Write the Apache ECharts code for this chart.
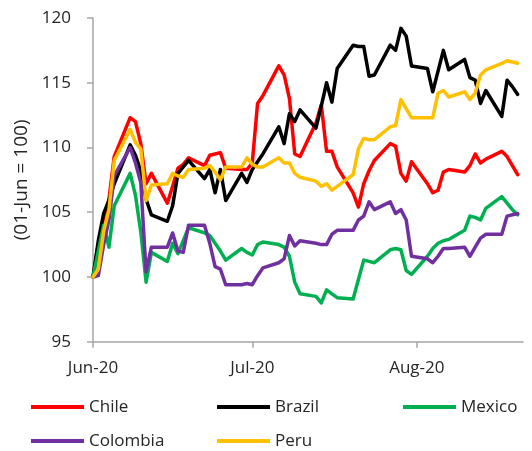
<!DOCTYPE html>
<html>
<head>
<meta charset="utf-8">
<script src="https://cdn.jsdelivr.net/npm/echarts@6/dist/echarts.min.js"></script>
<style>
html,body{margin:0;padding:0;background:#fff;}
#chart{width:532px;height:451px;}
</style>
</head>
<body>
<div id="chart"></div>
<script>
// Business days, 1 Jun 2020 .. 20 Aug 2020
const dates = [
  '2020-06-01','2020-06-02','2020-06-03','2020-06-04','2020-06-05',
  '2020-06-08','2020-06-09','2020-06-10','2020-06-11','2020-06-12',
  '2020-06-15','2020-06-16','2020-06-17','2020-06-18','2020-06-19',
  '2020-06-22','2020-06-23','2020-06-24','2020-06-25','2020-06-26',
  '2020-06-29','2020-06-30',
  '2020-07-01','2020-07-02','2020-07-03',
  '2020-07-06','2020-07-07','2020-07-08','2020-07-09','2020-07-10',
  '2020-07-13','2020-07-14','2020-07-15','2020-07-16','2020-07-17',
  '2020-07-20','2020-07-21','2020-07-22','2020-07-23','2020-07-24',
  '2020-07-27','2020-07-28','2020-07-29','2020-07-30','2020-07-31',
  '2020-08-03','2020-08-04','2020-08-05','2020-08-06','2020-08-07',
  '2020-08-10','2020-08-11','2020-08-12','2020-08-13','2020-08-14',
  '2020-08-17','2020-08-18','2020-08-19','2020-08-20'
];

const chile = [
  100, 102.5, 104.5, 106, 109.3, 112.3, 112.0, 110.3, 107.2, 108.0,
  105.7, 107.0, 108.4, 108.7, 109.2, 108.6, 109.4, 109.5, 109.6, 108.4,
  108.3, 108.3,
  108.8, 113.4, 114.0, 116.3, 115.6, 113.8, 109.5, 109.3, 111.9, 113.3,
  109.7, 109.7, 108.5, 106.5, 105.4, 107.2, 108.2, 109.0, 110.3, 110.1,
  108.0, 107.4, 108.9,
  107.2, 106.5, 106.7, 108.1, 108.3, 108.1, 108.6, 109.5, 108.8, 109.1,
  109.7, 109.3, 108.6, 107.9
];

const brazil = [
  100, 102.8, 104.9, 105.9, 107.2, 110.2, 109.4, 108.2, 106.0, 104.8,
  104.3, 105.5, 108.0, 108.5, 109.0, 107.6, 108.3, 106.5, 108.3, 105.9,
  108.0, 107.3,
  108.3, 108.9, 109.5, 111.6, 110.3, 112.6, 112.0, 112.9, 111.5, 113.2,
  115.0, 113.5, 116.1, 117.9, 117.8, 117.8, 115.5, 115.6, 117.9, 117.5,
  119.2, 118.6, 116.3,
  116.1, 114.3, 115.9, 117.5, 116.0, 116.8, 115.4, 115.2, 113.4, 114.4,
  112.4, 115.2, 114.7, 114.1
];

const mexico = [
  100, 102.0, 104.0, 102.3, 105.5, 108.0, 106.3, 103.5, 99.6, 101.9,
  101.2, 102.6, 101.8, 102.8, 103.8, 103.4, 103.2, 102.6, 102.0, 101.3,
  102.2, 101.9,
  101.7, 102.5, 102.7, 102.5, 102.3, 101.6, 99.6, 98.7, 98.5, 98.0,
  99.0, 98.7, 98.4, 98.3, 99.8, 101.3, 101.2, 101.1, 102.1, 102.2,
  102.1, 100.5, 100.2,
  101.6, 102.2, 102.6, 102.8, 102.9, 103.6, 104.7, 104.6, 104.4, 105.3,
  106.2, 105.7, 105.2, 104.8
];

const colombia = [
  100, 100.1, 102.5, 104.4, 107.8, 110.0, 108.8, 107.3, 100.4, 102.3,
  102.3, 103.4, 102.0, 101.9, 104.0, 104.0, 102.6, 100.8, 100.6, 99.4,
  99.4, 99.5,
  99.4, 100.1, 100.7, 101.1, 101.4, 103.2, 102.4, 102.8, 102.6, 102.5,
  102.5, 103.3, 103.6, 103.6, 104.4, 104.7, 105.8, 105.2, 105.8, 104.9,
  105.2, 104.4, 101.6,
  101.4, 101.1, 101.6, 102.2, 102.2, 102.3, 101.6, 102.3, 103.0, 103.3,
  103.3, 104.7, 104.8, 104.9
];

const peru = [
  100, 100.6, 103.5, 105.2, 109.0, 111.4, 110.4, 109.9, 105.9, 107.1,
  107.2, 108.0, 107.8, 107.7, 108.3, 108.4, 108.6, 108.1, 107.5, 108.5,
  108.5, 109.2,
  108.7, 108.5, 108.5, 109.2, 108.8, 108.8, 108.0, 107.7, 107.4, 107.0,
  107.2, 106.7, 107.0, 107.9, 109.9, 110.7, 110.6, 110.6, 111.6, 111.7,
  113.7, 113.0, 112.3,
  112.3, 112.3, 114.2, 114.4, 113.9, 114.3, 113.7, 114.2, 115.6, 116.0,
  116.5, 116.7, 116.6, 116.5
];

const seriesNames = ['Chile', 'Brazil', 'Mexico', 'Colombia', 'Peru'];
const xTickDates = ['2020-06-01', '2020-07-01', '2020-08-01'];
const xTickLabels = ['Jun-20', 'Jul-20', 'Aug-20'];
const xMin = '2020-06-01';
const xMax = '2020-08-21';
const yMin = 95, yMax = 120, yStep = 5;
const yTitle = '(01-Jun = 100)';

const DAY = 86400000;
function dayNum(s) {
  const p = s.split('-').map(Number);
  return Math.round(Date.UTC(p[0], p[1] - 1, p[2]) / DAY);
}

const colors = ['#FF0000', '#000000', '#00B050', '#7030A0', '#FFC000'];
const allValues = [chile, brazil, mexico, colombia, peru];
const tickDays = xTickDates.map(dayNum);
const FONT = 'Open Sans';

const series = seriesNames.map((name, k) => ({
  name: name,
  type: 'line',
  data: dates.map((d, i) => [dayNum(d), allValues[k][i]]),
  showSymbol: false,
  symbol: 'none',
  lineStyle: { color: colors[k], width: 3.5, join: 'round', cap: 'round' },
  itemStyle: { color: colors[k] },
  emphasis: { disabled: true },
  z: 2 + k
}));

// legend layout: 3 columns x 2 rows, in series order
const legendLeft = [31, 217, 403];
const legendTop = [397, 431];
const legends = seriesNames.map((name, k) => ({
  data: [name],
  left: legendLeft[k % 3],
  top: legendTop[Math.floor(k / 3)],
  padding: 0,
  itemWidth: 53,
  itemHeight: 4,
  icon: 'rect',
  selectedMode: false,
  textStyle: { fontFamily: FONT, fontSize: 17, color: '#262626', lineHeight: 20 }
}));

const chart = echarts.init(document.getElementById('chart'), null, { renderer: 'canvas' });
chart.setOption({
  animation: false,
  backgroundColor: '#ffffff',
  color: colors,
  grid: { left: 93, right: 9, top: 18, bottom: 109.3 },
  legend: legends,
  xAxis: {
    type: 'value',
    min: dayNum(xMin),
    max: dayNum(xMax),
    axisLine: { show: true, onZero: false, lineStyle: { color: '#A6A6A6', width: 1.5 } },
    axisTick: { show: true, length: 6, lineStyle: { color: '#A6A6A6', width: 1.5 }, customValues: tickDays },
    splitLine: { show: false },
    axisLabel: {
      customValues: tickDays,
      margin: 18,
      fontFamily: FONT,
      fontSize: 17,
      color: '#262626',
      formatter: function (v) {
        const idx = tickDays.indexOf(Math.round(v));
        return idx >= 0 ? xTickLabels[idx] : '';
      }
    }
  },
  yAxis: {
    type: 'value',
    min: yMin,
    max: yMax,
    interval: yStep,
    name: yTitle,
    nameLocation: 'middle',
    nameGap: 60,
    nameRotate: 90,
    nameTextStyle: { fontFamily: FONT, fontSize: 19, color: '#262626' },
    axisLine: { show: true, lineStyle: { color: '#A6A6A6', width: 1.5 } },
    axisTick: { show: true, length: 6, lineStyle: { color: '#A6A6A6', width: 1.5 } },
    splitLine: { show: false },
    axisLabel: { margin: 22, fontFamily: FONT, fontSize: 17, color: '#262626' }
  },
  series: series
});
</script>
</body>
</html>
